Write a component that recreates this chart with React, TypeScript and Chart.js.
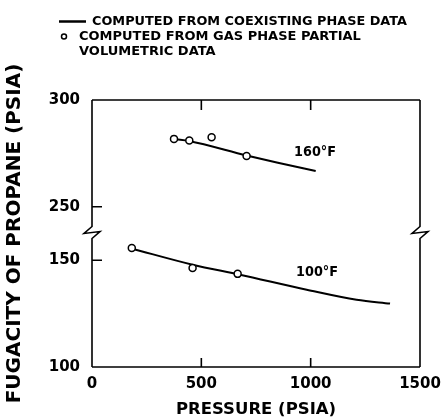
import React, { useEffect, useRef } from "react";
import { Chart, registerables } from "chart.js";

Chart.register(...registerables);

// ---- data ----
const xTickValues = [0, 500, 1000, 1500];
const yTickValues = [100, 150, 250, 300];
const BREAK_SHIFT = 75; // values above the axis break are drawn shifted down by this
const BREAK_VALUE = 162.5; // axis position of the break symbol

const line160X = [384, 443, 707, 850, 1023];
const line160Y = [281.6, 280.8, 274.0, 270.6, 266.8];
const pts160X = [375, 445, 547, 707];
const pts160Y = [281.8, 281.0, 282.6, 273.8];

const line100X = [183, 460, 677, 982, 1210, 1363];
const line100Y = [155.4, 147.9, 143.2, 136.2, 131.5, 129.7];
const pts100X = [182, 460, 666];
const pts100Y = [155.7, 146.4, 143.6];

const curveLabels = ["160°F", "100°F"];
const curveLabelX = [924, 933];
const curveLabelY = [275.5, 144.4];

const legendLines = [
  "COMPUTED FROM COEXISTING PHASE DATA",
  "COMPUTED FROM GAS PHASE PARTIAL",
  "VOLUMETRIC DATA",
];
const xTitle = "PRESSURE (PSIA)";
const yTitle = "FUGACITY OF PROPANE (PSIA)";

const FONT = "'DejaVu Sans', 'Liberation Sans', sans-serif";

const toAxis = (v: number) => (v >= 200 ? v - BREAK_SHIFT : v);
const fromAxis = (a: number) => (a > BREAK_VALUE ? a + BREAK_SHIFT : a);
const pts = (xs: number[], ys: number[]) => xs.map((x, i) => ({ x, y: toAxis(ys[i]) }));

const framePlugin = {
  id: "frame",
  beforeDraw(chart: any) {
    const ctx = chart.ctx;
    ctx.save();
    ctx.fillStyle = "#fff";
    ctx.fillRect(0, 0, chart.width, chart.height);
    ctx.restore();
  },
  afterDraw(chart: any) {
    const { ctx, chartArea } = chart;
    const xs = chart.scales.x;
    const ys = chart.scales.y;
    const { left, right, top, bottom } = chartArea;
    const by = ys.getPixelForValue(BREAK_VALUE);
    ctx.save();
    ctx.strokeStyle = "#000";
    ctx.fillStyle = "#000";
    ctx.lineWidth = 1.6;
    ctx.lineJoin = "miter";
    // top & bottom
    ctx.beginPath();
    ctx.moveTo(left, top);
    ctx.lineTo(right, top);
    ctx.moveTo(left, bottom);
    ctx.lineTo(right, bottom);
    ctx.stroke();
    // vertical axes with break symbol
    const vert = (x: number) => {
      ctx.beginPath();
      ctx.moveTo(x, top);
      ctx.lineTo(x, by - 7);
      ctx.lineTo(x - 8, by);
      ctx.lineTo(x + 8, by - 2);
      ctx.lineTo(x, by + 5);
      ctx.lineTo(x, bottom);
      ctx.stroke();
    };
    vert(left);
    vert(right);
    // inner ticks
    ctx.beginPath();
    [150, 250].forEach((v) => {
      const y = ys.getPixelForValue(toAxis(v));
      ctx.moveTo(left, y);
      ctx.lineTo(left + 10, y);
    });
    [500, 1000].forEach((v) => {
      const x = xs.getPixelForValue(v);
      ctx.moveTo(x, top);
      ctx.lineTo(x, top + 10);
      ctx.moveTo(x, bottom);
      ctx.lineTo(x, bottom - 9);
    });
    ctx.stroke();

    // curve labels
    ctx.font = `bold 14px ${FONT}`;
    ctx.textAlign = "left";
    ctx.textBaseline = "middle";
    curveLabels.forEach((t, i) => {
      ctx.fillText(
        t,
        xs.getPixelForValue(curveLabelX[i]),
        ys.getPixelForValue(toAxis(curveLabelY[i])),
        42
      );
    });

    // legend
    ctx.lineWidth = 2.5;
    ctx.beginPath();
    ctx.moveTo(59, 21.5);
    ctx.lineTo(86, 21.5);
    ctx.stroke();
    ctx.lineWidth = 1.5;
    ctx.beginPath();
    ctx.arc(64, 36.5, 2.5, 0, Math.PI * 2);
    ctx.stroke();
    ctx.font = `bold 13px ${FONT}`;
    ctx.fillText(legendLines[0], 92, 22, 315);
    ctx.fillText(legendLines[1], 79, 37, 288);
    ctx.fillText(legendLines[2], 79, 52, 150);
    ctx.restore();
  },
};

export default function App() {
  const ref = useRef<HTMLCanvasElement | null>(null);
  useEffect(() => {
    if (!ref.current) return;
    const chart = new Chart(ref.current, {
      type: "scatter",
      data: {
        datasets: [
          {
            label: "160 pts",
            data: pts(pts160X, pts160Y),
            showLine: false,
            pointRadius: 3.5,
            pointBorderWidth: 1.5,
            pointBackgroundColor: "#fff",
            pointBorderColor: "#000",
            order: 0,
          },
          {
            label: "100 pts",
            data: pts(pts100X, pts100Y),
            showLine: false,
            pointRadius: 3.5,
            pointBorderWidth: 1.5,
            pointBackgroundColor: "#fff",
            pointBorderColor: "#000",
            order: 0,
          },
          {
            label: "160 line",
            data: pts(line160X, line160Y),
            showLine: true,
            pointRadius: 0,
            borderColor: "#000",
            borderWidth: 2,
            cubicInterpolationMode: "monotone",
            order: 1,
          },
          {
            label: "100 line",
            data: pts(line100X, line100Y),
            showLine: true,
            pointRadius: 0,
            borderColor: "#000",
            borderWidth: 2,
            cubicInterpolationMode: "monotone",
            order: 1,
          },
        ],
      },
      options: {
        animation: false,
        responsive: false,
        layout: { padding: { top: 100, right: 24, left: 0, bottom: 0 } },
        plugins: { legend: { display: false }, tooltip: { enabled: false } },
        scales: {
          x: {
            type: "linear",
            min: 0,
            max: 1500,
            afterBuildTicks: (s: any) => {
              s.ticks = xTickValues.map((v) => ({ value: v }));
            },
            afterFit: (s: any) => {
              s.height = 53;
              s.paddingLeft = 0;
              s.paddingRight = 0;
            },
            grid: { display: false, drawTicks: false },
            border: { display: false },
            ticks: {
              color: "#000",
              padding: 8,
              maxRotation: 0,
              callback: (v: any) => String(v),
              font: { family: FONT, size: 15, weight: "bold" },
            },
            title: {
              display: true,
              text: xTitle,
              color: "#000",
              padding: 0,
              font: { family: FONT, size: 16.5, weight: "bold", lineHeight: 1.2 },
            },
          },
          y: {
            type: "linear",
            min: 100,
            max: 225,
            afterBuildTicks: (s: any) => {
              s.ticks = yTickValues.map((v) => ({ value: toAxis(v) }));
            },
            afterFit: (s: any) => {
              s.width = 92;
              s.paddingTop = 0;
              s.paddingBottom = 0;
            },
            grid: { display: false, drawTicks: false },
            border: { display: false },
            ticks: {
              color: "#000",
              padding: 12,
              callback: (v: any) => String(fromAxis(Number(v))),
              font: { family: FONT, size: 15, weight: "bold" },
            },
            title: {
              display: true,
              text: yTitle,
              color: "#000",
              padding: { top: 3, bottom: 0 },
              font: { family: FONT, size: 20, weight: "bold", lineHeight: 1.2 },
            },
          },
        },
      } as any,
      plugins: [framePlugin],
    });
    return () => chart.destroy();
  }, []);
  return (
    <div style={{ position: "fixed", left: 0, top: 0, width: 444, height: 420, background: "#fff" }}>
      <canvas ref={ref} width={444} height={420} style={{ width: 444, height: 420, display: "block" }} />
    </div>
  );
}
